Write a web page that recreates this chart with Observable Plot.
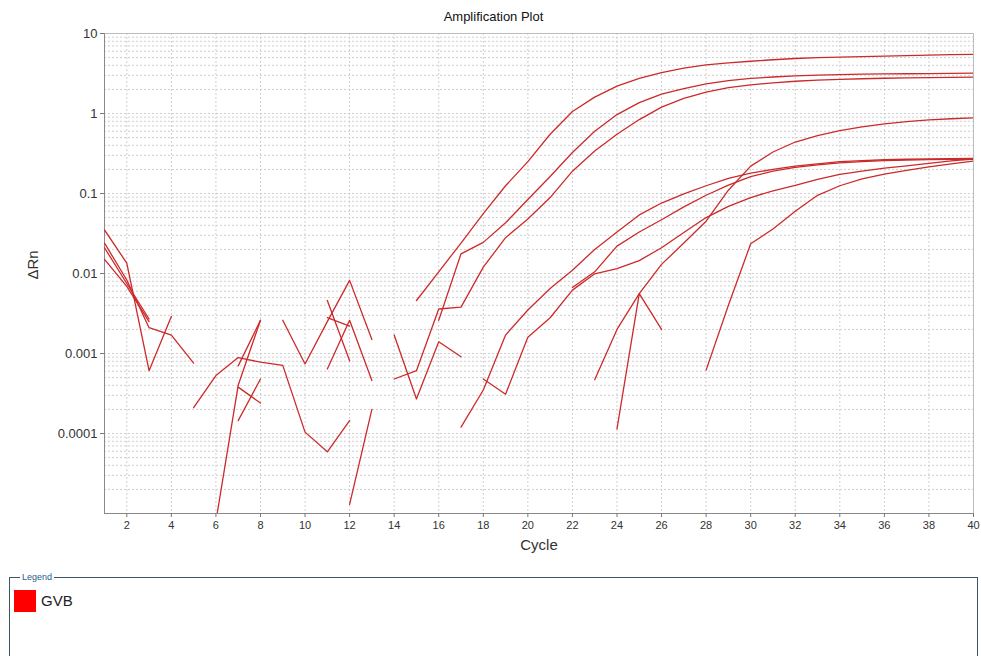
<!DOCTYPE html>
<html>
<head>
<meta charset="utf-8">
<script src="https://cdn.jsdelivr.net/npm/d3@7"></script>
<script src="https://cdn.jsdelivr.net/npm/@observablehq/plot@0.6"></script>
<style>
  html, body { margin: 0; padding: 0; background: #fff; }
  body { width: 981px; height: 656px; overflow: hidden; position: relative; font-family: "Liberation Sans", Arial, sans-serif; }
  #title { height: 26px; width: 981px; text-align: center; font-size: 13px; line-height: 34px; color: #111; padding-left: 6px; box-sizing: border-box; }
  #chart svg { display: block; }
  #legend { position: absolute; left: 9px; top: 577px; width: 969px; height: 100px; border: 1px solid #3e5563; box-sizing: border-box; }
  #legend .cap { position: absolute; left: 10px; top: -7px; font-size: 9px; color: #2a5d8c; background: #fff; padding: 0 2px; line-height: 12px; }
  #legend .sw { position: absolute; left: 4px; top: 12px; width: 22px; height: 22px; background: #f00; }
  #legend .lbl { position: absolute; left: 31px; top: 14px; font-size: 15px; color: #222; line-height: 18px; }
</style>
</head>
<body>
<div id="title">Amplification Plot</div>
<div id="chart"></div>
<div id="legend"><span class="cap">Legend</span><div class="sw"></div><div class="lbl">GVB</div></div>
<script>
// ---- data (cycle 1..40; null = no valid ΔRn, line breaks) ----
const cycles = d3.range(1, 41);
const xTicks = [2,4,6,8,10,12,14,16,18,20,22,24,26,28,30,32,34,36,38,40];
const yTicks = [0.0001, 0.001, 0.01, 0.1, 1, 10];
const seriesName = "GVB";

const well1 = [0.035,0.0135,0.00061,0.0029,null,0.000008,0.0004,0.0026,null,null,
  0.0046,0.00081,null,null,0.0046,0.0105,0.024,0.056,0.125,0.25,
  0.55,1.06,1.6,2.2,2.75,3.25,3.7,4.05,4.3,4.5,
  4.7,4.87,4.98,5.08,5.15,5.22,5.3,5.38,5.45,5.5];
const well2 = [0.024,0.0083,0.0021,0.0017,0.00076,null,0.000145,0.00048,null,null,
  0.00064,0.0026,0.00046,null,null,0.0026,0.0176,0.0245,0.043,0.084,
  0.163,0.325,0.6,0.97,1.37,1.75,2.05,2.34,2.58,2.75,
  2.86,2.95,3.01,3.07,3.1,3.12,3.14,3.16,3.18,3.2];
const well3 = [0.021,0.0075,0.0027,null,0.00021,0.00053,0.00089,0.00078,0.00071,0.000104,
  0.000059,0.000145,null,0.00048,0.00061,0.0036,0.0038,0.012,0.028,0.048,
  0.089,0.19,0.34,0.55,0.84,1.2,1.55,1.85,2.1,2.28,
  2.42,2.53,2.61,2.67,2.72,2.76,2.79,2.81,2.83,2.85];
const well4 = [0.015,0.0069,0.0025,null,null,null,0.00038,0.00024,null,null,
  0.0028,0.0022,null,0.0017,0.00027,0.0014,0.00091,null,null,null,
  null,0.0067,0.0105,0.022,0.033,0.047,0.068,0.095,0.127,0.163,
  0.19,0.212,0.228,0.242,0.251,0.257,0.262,0.265,0.267,0.268];
const well5 = [null,null,null,null,null,null,0.0007,0.0026,null,null,
  null,0.000013,0.0002,null,null,null,0.00012,0.00035,0.0017,0.0035,
  0.0065,0.011,0.02,0.033,0.054,0.076,0.099,0.125,0.155,0.18,
  0.2,0.22,0.235,0.25,0.258,0.264,0.268,0.27,0.272,0.274];
const well6 = [null,null,null,null,null,null,null,null,0.0026,0.00074,
  0.0025,0.0082,0.0015,null,null,null,null,0.00048,0.00031,0.0016,
  0.0028,0.0062,0.0099,0.0115,0.0145,0.021,0.0326,0.05,0.069,0.089,
  0.108,0.126,0.15,0.173,0.19,0.208,0.222,0.238,0.255,0.27];
const well7 = [null,null,null,null,null,null,null,null,null,null,
  null,null,null,null,null,null,null,null,null,null,
  null,null,0.00047,0.002,0.0056,0.013,0.024,0.045,0.11,0.22,
  0.33,0.44,0.53,0.61,0.68,0.74,0.79,0.83,0.86,0.88];
const well8 = [null,null,null,null,null,null,null,null,null,null,
  null,null,null,null,null,null,null,null,null,null,
  null,null,null,0.000114,0.0056,0.002,null,0.00062,0.004,0.0235,
  0.036,0.06,0.095,0.125,0.152,0.175,0.195,0.215,0.235,0.255];

const wells = [well1, well2, well3, well4, well5, well6, well7, well8];
const rows = [];
wells.forEach((vals, w) => vals.forEach((v, i) => rows.push({well: "W" + (w + 1), cycle: cycles[i], dRn: v, series: seriesName})));

// log grid values (1..9 x decade)
const yGrid = [];
for (let k = -5; k <= 0; k++) for (let m = 1; m <= 9; m++) yGrid.push(+(m * Math.pow(10, k)).toPrecision(3));
yGrid.push(10);

const gridStyle = {stroke: "#cfcfcf", strokeDasharray: "2,2", strokeWidth: 1};

const chart = Plot.plot({
  width: 981,
  height: 540,
  marginLeft: 104,
  marginRight: 8,
  marginTop: 7,
  marginBottom: 53,
  style: {fontFamily: "Liberation Sans, Arial, sans-serif", color: "#333", background: "#fff"},
  x: {domain: [1, 40]},
  y: {type: "log", domain: [0.00001, 10]},
  marks: [
    Plot.ruleY(yGrid, gridStyle),
    Plot.ruleX(xTicks.slice(0, -1), gridStyle),
    Plot.frame({stroke: "#bdbdbd"}),
    Plot.ruleX([1], {stroke: "#8a8a8a"}),
    Plot.ruleY([0.00001], {stroke: "#8a8a8a"}),
    Plot.axisY({ticks: yTicks, tickFormat: d => String(d), tickSize: 4, tickPadding: 3, fontSize: 13, stroke: "#777", label: null}),
    Plot.axisX({ticks: xTicks, tickFormat: d => String(d), tickSize: 4, tickPadding: 4, fontSize: 11, stroke: "#777", label: null}),
    Plot.line(rows, {x: "cycle", y: "dRn", z: "well", stroke: "#cc2a2a", strokeWidth: 1.3, clip: true}),
    Plot.text(["Cycle"], {text: d => d, frameAnchor: "bottom", dy: 36, fontSize: 15, fill: "#333"}),
    Plot.text(["ΔRn"], {text: d => d, frameAnchor: "left", dx: -71, dy: 6, rotate: -90, fontSize: 15, fill: "#333"})
  ]
});
document.getElementById("chart").appendChild(chart);
</script>
</body>
</html>
